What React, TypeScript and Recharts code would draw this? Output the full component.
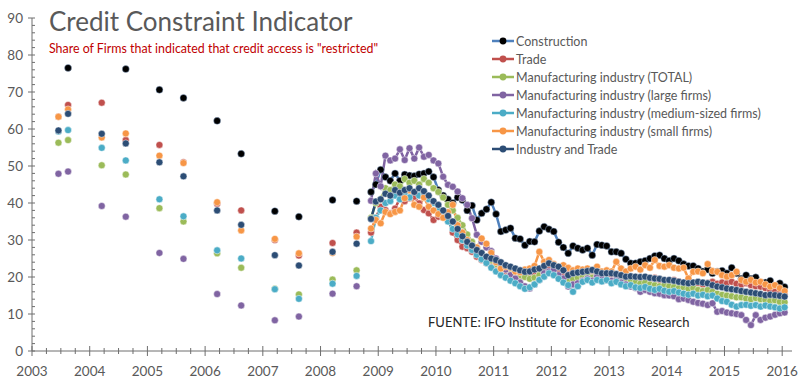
import { LineChart, Line, XAxis, YAxis, Legend } from 'recharts'

// semiannual surveys before the monthly series starts
const EARLY_MONTHS = ['2003-06', '2003-08', '2004-03', '2004-08', '2005-03', '2005-08', '2006-03', '2006-08', '2007-03', '2007-08', '2008-03', '2008-08']
// monthly series: Nov 2008 .. Jan 2016
const MONTHLY_START = '2008-11'

const constructionEarly = [null, 76.5, null, 76.2, 70.6, 68.4, 62.2, 53.3, 37.8, 36.3, 40.8, 40.5]
const tradeEarly = [63.3, 66.5, 67.1, 57.0, 55.7, 51.0, 39.8, 38.0, 30.0, 25.8, 29.2, 32.0]
const totalEarly = [56.3, 57.0, 50.2, 47.7, 38.6, 35.0, 26.4, 22.5, 16.8, 15.3, 19.3, 21.8]
const largeEarly = [47.9, 48.5, 39.2, 36.3, 26.5, 24.9, 15.4, 12.3, 8.3, 9.3, 15.5, 17.5]
const mediumEarly = [59.3, 59.7, 54.9, 51.5, 41.0, 36.4, 27.2, 25.0, 16.7, 14.1, 18.2, 20.3]
const smallEarly = [63.3, 65.3, 57.7, 58.8, 52.8, 50.8, 40.2, 32.6, 30.3, 26.4, 26.5, 30.9]
const industryTradeEarly = [59.6, 64.1, 58.7, 56.1, 51.0, 47.2, 38.0, 34.1, 25.9, 23.1, 26.8, 29.0]

const constructionMonthly = [
  43, 45,
  49, 47, 46, 48, 46, 47.7, 47.4, 47.3, 47.8, 48, 48.5, 47,
  43.5, 42, 41, 40, 41.5, 40.8, 38, 39.3, 35.4, 37.2, 38.3, 40.2,
  37, 32.3, 32.7, 33.2, 30.5, 30.3, 28.6, 29.6, 29.5, 32.4, 33.6, 32.9,
  32.3, 29.4, 28, 26.4, 28.4, 27.8, 27.3, 27.8, 25.9, 28.8, 28.6, 28.4,
  26.8, 26.8, 26.4, 24.8, 23.7, 23.7, 24.1, 24.4, 25, 25.7, 25.9, 25,
  24.4, 25, 24.4, 23.5, 23, 23, 22.3, 21.5, 22, 21, 21.5, 21.7,
  21, 22.5, 21, 19.5, 20.5, 19.5, 19.9, 18.3, 18.5, 19, 16.9, 18.3,
  17.3,
]
const tradeMonthly = [
  32, 36,
  39, 38.1, 37.2, 38.5, 41.3, 40.5, 41.3, 41.7, 39.9, 38.1, 37.2, 35.4,
  36.3, 37.5, 36, 32, 30, 28.2, 27.8, 26.8, 25.5, 24.6, 23.8, 23.2,
  22.5, 22, 21.3, 20.8, 20.5, 20, 20.3, 20.5, 21, 21.5, 22, 22.5,
  22.3, 21.5, 21, 20.8, 20.5, 21, 21.2, 21.5, 21, 21.3, 20.8, 20.5,
  20.2, 20.5, 20, 19.8, 20, 19.8, 19.5, 19.8, 19.5, 19.8, 19.2, 19,
  19, 19.2, 18.8, 18.5, 18.2, 18.5, 18.3, 18, 18.4, 18.7, 18.2, 18.5,
  18.3, 18.7, 18.2, 18, 18.3, 17.8, 17.5, 17.4, 17, 16.5, 16, 15.6,
  15.2,
]
const totalMonthly = [
  36, 40,
  41, 44, 43.5, 45, 44.5, 46.5, 45.5, 46, 45, 46.5, 45.5, 44,
  43, 41.5, 39.5, 38, 36, 34, 31.5, 29.5, 28, 26.5, 25.5, 24.5,
  23.5, 22.5, 22, 21.5, 21, 20.5, 20, 19.5, 19.8, 20.5, 21, 21.2,
  21, 20.2, 19.5, 19, 19.5, 19.8, 20, 20.5, 19.8, 20.2, 19.5, 19.2,
  19, 19.2, 18.8, 18.5, 18.8, 18.5, 18.2, 18.5, 18, 17.8, 17.5, 17.8,
  17.5, 17.3, 17, 17.2, 16.8, 17, 16.5, 16.2, 16.5, 16, 15.5, 15.2,
  15, 14.8, 14.5, 14.5, 14.2, 14, 14.3, 14, 13.8, 13.5, 13.7, 13.3,
  13.2,
]
const largeMonthly = [
  40.6, 48,
  44.5, 52.8, 51.5, 52, 54.5, 51.6, 54.8, 52, 55, 52.5, 53, 51.5,
  50.7, 47.1, 44.9, 44.4, 43.1, 41.3, 39.5, 35.9, 31.4, 29.5, 28, 27,
  25, 23.5, 22, 20.5, 19.6, 18.5, 17.5, 16.9, 18, 19.2, 21, 21.5,
  21.9, 20.5, 19.6, 17.4, 18, 18.3, 19, 19.6, 19, 20.1, 19.5, 19.2,
  19, 19.2, 18.5, 18, 17.4, 17, 16, 16.5, 16, 15.6, 15.5, 15.1,
  15, 14.8, 14, 14.2, 13.8, 13.3, 13, 12.8, 12.4, 12.9, 10.6, 10.8,
  10.4, 10.2, 10, 9.7, 8.4, 7.0, 9.7, 8.4, 9, 9.3, 9.8, 10.2,
  10.4,
]
const mediumMonthly = [
  29.7, 36,
  38, 40, 40.5, 42, 41, 42.5, 41.5, 43, 42, 42.5, 41, 40,
  38.5, 37, 35, 33, 31.5, 30, 28.5, 27.3, 26, 24.8, 23.8, 22.5,
  21.5, 20.5, 19.8, 19, 18.3, 17.5, 16.8, 17.2, 18, 19.2, 20.1, 21,
  20.5, 19.5, 18.5, 17.8, 16, 17.5, 18.7, 19.2, 18.5, 19.2, 18.8, 19.2,
  18.3, 18.7, 18, 17.5, 17.8, 17.2, 17, 17.3, 16.8, 16.5, 16.8, 16.3,
  16, 16.2, 15.8, 15.5, 15.2, 15.5, 15, 15.2, 14.8, 15, 14.2, 13.5,
  13.3, 12.5, 12, 12.4, 12.5, 12.2, 12.4, 12, 12.3, 12, 11.8, 11.5,
  11.8,
]
const smallMonthly = [
  33.1, 35.4,
  34.5, 37.6, 37, 37.6, 38, 41.3, 43.5, 39.5, 39, 41.5, 39, 38,
  37, 36, 37.5, 39.5, 34, 32, 30, 28.5, 28, 30.4, 29, 26.5,
  24, 22.3, 22.8, 22.5, 21.5, 21.3, 22, 22.3, 23, 26.8, 24.1, 24.6,
  23.5, 22.8, 23.2, 22.5, 21.8, 22.3, 22, 22.3, 21.8, 22.8, 21.5, 21.8,
  21.5, 24.1, 22.3, 21.5, 22.3, 22.8, 22, 23.2, 22.5, 24.6, 23, 22.8,
  23.2, 22.5, 22.3, 22.5, 19.6, 21.4, 21.5, 21, 23.5, 21.6, 21.4, 20.5,
  20.1, 20.5, 21.4, 19.2, 18.7, 19.2, 18.5, 18.7, 18, 17.4, 17.8, 17,
  16.2,
]
const industryTradeMonthly = [
  35.7, 40.4,
  41, 42.5, 42, 43.5, 42.8, 43.5, 44, 43, 44, 43.2, 42, 40.5,
  39.5, 38, 36.5, 35, 33, 31, 29.5, 28.5, 27.3, 26.5, 25.5, 25,
  24.6, 24, 23.2, 22.8, 22.3, 21.8, 21.4, 21.5, 22, 22.3, 23, 23.7,
  23.2, 22.8, 21.8, 20.5, 21, 21.2, 21.4, 21.6, 21.9, 21.5, 21, 21,
  21, 20.8, 20.5, 20.1, 20.2, 20.1, 20, 20.1, 19.8, 19.6, 19.5, 19.2,
  19.2, 19, 18.7, 18.5, 18.3, 18.5, 18.7, 18.5, 18.3, 17.8, 17.4, 17.2,
  16.9, 16.7, 16.5, 16.2, 16, 15.8, 15.6, 15.4, 15.1, 15.2, 15.1, 14.9,
  14.7,
]

const YEAR_TICKS = [2003, 2004, 2005, 2006, 2007, 2008, 2009, 2010, 2011, 2012, 2013, 2014, 2015, 2016]
const Y_TICKS = [0, 10, 20, 30, 40, 50, 60, 70, 80, 90]

const SERIES = [
  { key: 'construction', name: 'Construction', color: '#4F81BD', dot: '#000000', early: constructionEarly, monthly: constructionMonthly },
  { key: 'trade', name: 'Trade', color: '#C0504D', dot: '#C0504D', early: tradeEarly, monthly: tradeMonthly },
  { key: 'total', name: 'Manufacturing industry (TOTAL)', color: '#9BBB59', dot: '#9BBB59', early: totalEarly, monthly: totalMonthly },
  { key: 'large', name: 'Manufacturing industry (large firms)', color: '#8064A2', dot: '#8064A2', early: largeEarly, monthly: largeMonthly },
  { key: 'medium', name: 'Manufacturing industry (medium-sized firms)', color: '#4BACC6', dot: '#4BACC6', early: mediumEarly, monthly: mediumMonthly },
  { key: 'small', name: 'Manufacturing industry (small firms)', color: '#F79646', dot: '#F79646', early: smallEarly, monthly: smallMonthly },
  { key: 'industryTrade', name: 'Industry and Trade', color: '#2C4D75', dot: '#2C4D75', early: industryTradeEarly, monthly: industryTradeMonthly },
]

const FONT = 'Lato, "Open Sans", sans-serif'
const AXIS = '#6E6E6E'

function monthIndex(ym: string) {
  const [y, m] = ym.split('-').map(Number)
  return y * 12 + (m - 1)
}

// one row per month, so that months without a survey break the lines
const chartData: any[] = []
for (let i = monthIndex('2003-06'); i <= monthIndex('2016-01'); i++) {
  const year = Math.floor(i / 12)
  const month = (i % 12) + 1
  const ym = `${year}-${String(month).padStart(2, '0')}`
  const row: any = { t: year + (month - 0.5) / 12 }
  const e = EARLY_MONTHS.indexOf(ym)
  const m = i - monthIndex(MONTHLY_START)
  SERIES.forEach((s) => {
    if (e >= 0) row[s.key] = s.early[e]
    else if (m >= 0) row[s.key] = s.monthly[m] ?? null
    else row[s.key] = null
  })
  chartData.push(row)
}

const xTicks: number[] = []
YEAR_TICKS.forEach((y, i) => {
  xTicks.push(y)
  if (i < YEAR_TICKS.length - 1) xTicks.push(y + 0.25, y + 0.5, y + 0.75)
})
const yTicks: number[] = []
for (let v = 0; v <= 90; v += 2) yTicks.push(v)

function XTick({ x, y, payload }: any) {
  const major = YEAR_TICKS.includes(payload.value)
  return (
    <g>
      <line x1={x} x2={x} y1={major ? y - 5 : y - 3} y2={major ? y + 5 : y + 3} stroke={AXIS} />
      {major && (
        <text x={x} y={y + 25} textAnchor="middle" fontFamily={FONT} fontSize={13.5} fill="#595959">
          {payload.value}
        </text>
      )}
    </g>
  )
}

function YTick({ x, y, payload }: any) {
  const major = Y_TICKS.includes(payload.value)
  return (
    <g>
      <line x1={major ? x - 4 : x} x2={x + 3} y1={y} y2={y} stroke={AXIS} />
      {major && (
        <text x={x - 9} y={y + 5} textAnchor="end" fontFamily={FONT} fontSize={13.5} fill="#595959">
          {payload.value}
        </text>
      )}
    </g>
  )
}

function renderLegend() {
  return (
    <div style={{ fontFamily: FONT, fontSize: 12.5, color: '#595959' }}>
      {SERIES.map((s) => (
        <div key={s.key} style={{ display: 'flex', alignItems: 'center', height: 18 }}>
          <svg width={22} height={10} style={{ marginRight: 2 }}>
            <line x1={0} x2={22} y1={5} y2={5} stroke={s.color} strokeWidth={2.5} />
            <circle cx={11} cy={5} r={3.4} fill={s.dot} />
          </svg>
          <span style={{ whiteSpace: 'nowrap' }}>{s.name}</span>
        </div>
      ))}
    </div>
  )
}

export default function App() {
  return (
    <div style={{ position: 'relative', width: 800, height: 382, background: '#fff' }}>
      <style>{'body{margin:0}'}</style>
      <LineChart width={800} height={382} data={chartData} margin={{ top: 18, right: 8, bottom: 0, left: 0 }}>
        <XAxis
          type="number"
          dataKey="t"
          domain={[2003, 2016.17]}
          ticks={xTicks}
          interval={0}
          allowDataOverflow
          tick={<XTick />}
          tickLine={false}
          tickSize={0}
          tickMargin={0}
          axisLine={{ stroke: AXIS }}
          height={31}
        />
        <YAxis
          type="number"
          domain={[0, 90]}
          ticks={yTicks}
          interval={0}
          tick={<YTick />}
          tickLine={false}
          tickSize={0}
          tickMargin={0}
          axisLine={{ stroke: AXIS }}
          width={32}
        />
        <Legend
          layout="vertical"
          align="center"
          verticalAlign="middle"
          wrapperStyle={{ left: 492, top: 32, width: 300 }}
          content={renderLegend}
        />
        {SERIES.map((s) => (
          <Line
            key={s.key}
            type="linear"
            dataKey={s.key}
            name={s.name}
            stroke={s.color}
            strokeWidth={2.5}
            connectNulls={false}
            dot={{ r: 3.5, fill: s.dot, stroke: s.key === 'construction' ? '#9DB8DC' : '#ffffff', strokeOpacity: 0.6, strokeWidth: 0.8 }}
            activeDot={false}
            isAnimationActive={false}
          />
        ))}
      </LineChart>
      <svg width={800} height={382} style={{ position: 'absolute', left: 0, top: 0, pointerEvents: 'none' }}>
        <text x={49} y={30.5} fontFamily={FONT} fontSize={26} fill="#595959">
          Credit Constraint Indicator
        </text>
        <text x={49} y={52.5} fontFamily={FONT} fontSize={12.4} fill="#C00000">
          Share of Firms that indicated that credit access is "restricted"
        </text>
        <text x={428} y={327} fontFamily={FONT} fontSize={13} fill="#262626">
          FUENTE: IFO Institute for Economic Research
        </text>
      </svg>
    </div>
  )
}
